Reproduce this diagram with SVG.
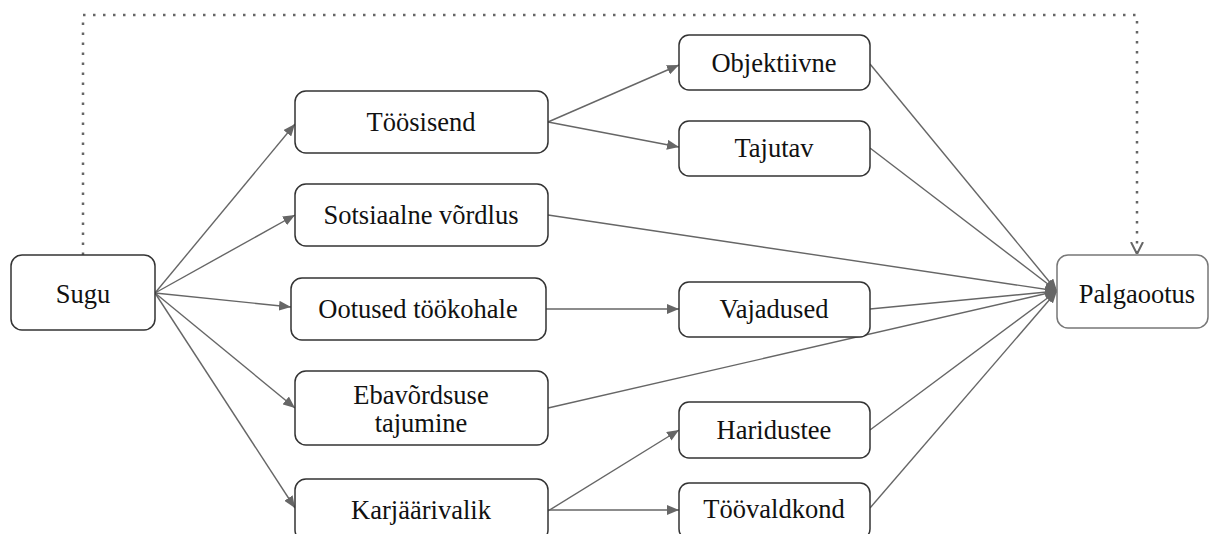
<svg xmlns="http://www.w3.org/2000/svg" width="1210" height="534" viewBox="0 0 1210 534">
<style>
.box{fill:#fff;stroke:#333;stroke-width:1.5}
.box2{fill:#fff;stroke:#777;stroke-width:1.5}
.t{font-family:"Liberation Serif","Times New Roman","DejaVu Serif",serif;font-size:26.5px;fill:#111;text-anchor:middle}
.e{fill:none;stroke:#666;stroke-width:1.4}
.a{marker-end:url(#ah)}
.d{fill:none;stroke:#666;stroke-width:2.5;stroke-dasharray:2.5 7.5;marker-end:url(#vee)}
</style>
<defs>
<marker id="ah" viewBox="0 0 12 10" refX="12" refY="5" markerWidth="12" markerHeight="10" markerUnits="userSpaceOnUse" orient="auto">
<path d="M0,0 L12,5 L0,10 Z" fill="#666"/>
</marker>
<marker id="vee" viewBox="0 0 12 14" refX="12" refY="7" markerWidth="12" markerHeight="14" markerUnits="userSpaceOnUse" orient="auto">
<path d="M0,1 L12,7 L0,13" fill="none" stroke="#666" stroke-width="2"/>
</marker>
</defs>
<rect width="1210" height="534" fill="#fff"/>
<g id="connectors">
<path class="d" d="M83,255 V15 H1137 V254"/>
<path class="e a" d="M155,293 L295,124"/>
<path class="e a" d="M155,293 L295,215"/>
<path class="e a" d="M155,293 L291,307"/>
<path class="e a" d="M155,293 L295,408"/>
<path class="e a" d="M155,293 L295,508"/>
<path class="e a" d="M548,122 L679,65"/>
<path class="e a" d="M548,122 L679,147"/>
<path class="e a" d="M546,309 L679,309"/>
<path class="e a" d="M548,511 L679,430"/>
<path class="e a" d="M548,510 L679,510"/>
<path class="e a" d="M870,64 L1057,291"/>
<path class="e a" d="M870,148 L1057,291"/>
<path class="e a" d="M548,215 L1057,291"/>
<path class="e a" d="M870,309 L1057,291"/>
<path class="e a" d="M548,408 L1057,291"/>
<path class="e a" d="M870,430 L1057,291"/>
<path class="e a" d="M870,508 L1057,291"/>
</g>
<g id="sugu"><rect class="box" x="11" y="255" width="144" height="75" rx="11"/><text class="t" x="83" y="303">Sugu</text></g>
<g id="toosisend"><rect class="box" x="295" y="91" width="253" height="62" rx="11"/><text class="t" x="421" y="131">Töösisend</text></g>
<g id="sotsiaalne"><rect class="box" x="295" y="184" width="253" height="62" rx="11"/><text class="t" x="421" y="224">Sotsiaalne võrdlus</text></g>
<g id="ootused"><rect class="box" x="291" y="278" width="255" height="62" rx="11"/><text class="t" x="418" y="318">Ootused töökohale</text></g>
<g id="ebavordsuse"><rect class="box" x="295" y="371" width="253" height="74" rx="11"/><text class="t" x="421" y="404">Ebavõrdsuse</text><text class="t" x="421" y="432">tajumine</text></g>
<g id="karjaarivalik"><rect class="box" x="295" y="479" width="253" height="62" rx="11"/><text class="t" x="421" y="519">Karjäärivalik</text></g>
<g id="objektiivne"><rect class="box" x="679" y="35" width="191" height="55" rx="10"/><text class="t" x="774" y="72">Objektiivne</text></g>
<g id="tajutav"><rect class="box" x="679" y="121" width="191" height="55" rx="10"/><text class="t" x="774" y="157">Tajutav</text></g>
<g id="vajadused"><rect class="box" x="679" y="282" width="191" height="55" rx="10"/><text class="t" x="774" y="318">Vajadused</text></g>
<g id="haridustee"><rect class="box" x="679" y="402" width="191" height="56" rx="10"/><text class="t" x="774" y="439">Haridustee</text></g>
<g id="toovaldkond"><rect class="box" x="679" y="483" width="191" height="56" rx="10"/><text class="t" x="774" y="518">Töövaldkond</text></g>
<g id="palgaootus"><rect class="box2" x="1057" y="255" width="151" height="73" rx="11"/><text class="t" x="1137" y="303">Palgaootus</text></g>
</svg>
